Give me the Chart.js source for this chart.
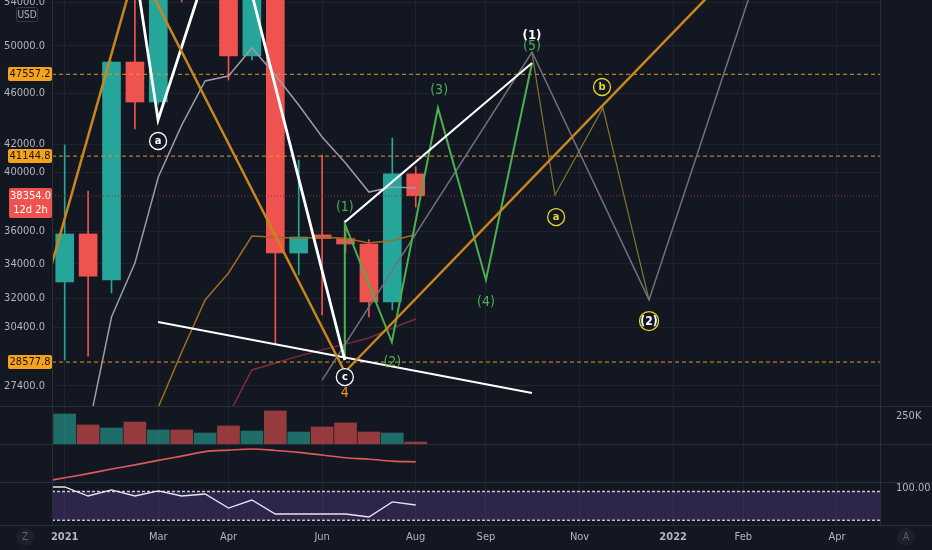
<!DOCTYPE html>
<html>
<head>
<meta charset="utf-8">
<script src="https://cdn.jsdelivr.net/npm/chart.js@4.4.1/dist/chart.umd.min.js"></script>
<style>
  html, body { margin: 0; padding: 0; background: #131722; }
  #wrap { width: 932px; height: 550px; }
</style>
</head>
<body>
<div id="wrap"><canvas id="chart" width="932" height="550"></canvas></div>
<script>
// BTC/USD, 2 week bars
const barDates = ['2021-01-04', '2021-01-18', '2021-02-01', '2021-02-15', '2021-03-01', '2021-03-15', '2021-03-29', '2021-04-12',
                  '2021-04-26', '2021-05-10', '2021-05-24', '2021-06-07', '2021-06-21', '2021-07-05', '2021-07-19', '2021-08-02'];
const opens  = [32930, 35850, 33050, 48600, 45280, 57500, 55800, 60500, 49120, 58000, 34660, 35790, 35560, 35220, 31790, 39870];
const highs  = [41960, 38680, 48650, 57000, 61500, 61000, 61500, 64800, 59500, 59600, 40860, 41230, 36400, 35500, 42490, 40370];
const lows   = [28680, 28880, 32300, 43170, 45100, 54050, 55000, 47080, 48780, 29550, 33340, 31060, 34700, 30950, 31340, 37600];
const closes = [35850, 33270, 48600, 45280, 57500, 55800, 60500, 49120, 58000, 34660, 35660, 35560, 35220, 31790, 39870, 38354];
const volumesK = [268, 170, 143, 196, 125, 125, 98, 161, 116, 295, 107, 152, 188, 107, 98, 18];

// lower panes (the bar before the window comes first)
const maPane  = [0, 11, 22, 34, 45, 57, 68, 80, 84, 87, 83, 78, 71, 64, 60, 55, 53];
const rsiPane = [89.5, 89.5, 70.7, 83.3, 70.7, 81.2, 70.7, 74.9, 45.6, 62.3, 33, 33, 33, 33, 26.8, 58.2, 51.9];
const rsiBand = [80, 20];

// moving averages on price
const maGrayIdx = [1, 2, 3, 4, 5, 6, 7, 8, 9, 10, 11, 12, 13, 14, 15];
const maGray    = [25340, 30950, 34050, 39650, 43470, 47000, 47410, 49820, 47500, 45040, 42560, 40650, 38610, 38950, 38880];
const maBrownIdx = [4, 5, 6, 7, 8, 9, 10, 11, 12, 13, 14, 15];
const maBrown    = [26390, 29090, 31900, 33460, 35720, 35650, 35580, 35650, 35580, 35280, 35440, 35820];
const maMaroonIdx = [7, 8, 9, 10, 11, 12, 13, 14, 15];
const maMaroon    = [26020, 28180, 28530, 28880, 29200, 29500, 29820, 30350, 30840];

// drawings (bar index, price)
const orangeIdx = [-0.54, 3.09, 11.97, 29];
const orangePx  = [34050, 57810, 28080, 58220];
const abcIdx = [2.97, 3.99, 7.0, 11.97];
const abcPx  = [58000, 43860, 64510, 28680];
const upperTrendIdx = [11.97, 19.97];
const upperTrendPx  = [36610, 48520];
const lowerTrendIdx = [3.99, 19.97];
const lowerTrendPx  = [30680, 27060];
const impulseIdx = [11.97, 11.97, 13.98, 15.95, 18.0, 19.97];
const impulsePx  = [28830, 36490, 29610, 44810, 33050, 48520];
const bigWaveIdx = [11.0, 19.97, 24.97, 31.0];
const bigWavePx  = [27680, 49470, 31900, 67910];
const correctionIdx = [19.97, 20.95, 23.0, 24.97];
const correctionPx  = [49380, 38410, 44810, 31900];

// wave labels
const waveText   = ['a', 'c', '4', '(1)', '(2)', '(3)', '(4)', '(5)', '(1)', 'a', 'b', '(2)'];
const waveIdx    = [3.99, 11.97, 11.97, 11.97, 14.0, 16.0, 18.0, 19.97, 19.97, 21.0, 22.96, 24.97];
const wavePrice  = [42260, 27830, 27060, 37600, 28580, 46250, 31790, 50000, 50980, 36940, 46500, 30730];
const waveDegree = ['minorW', 'minorW', 'primary', 'minute', 'minute', 'minute', 'minute', 'minute', 'intermediate', 'minorY', 'minorY', 'intermediateY'];

// price levels
const levelPrices = [47557.2, 41144.8, 28577.8];
const lastPrice = 38354.0;
const barCountdown = '12d 2h';

// axes
const priceTicks = [54000, 50000, 46000, 42000, 40000, 36000, 34000, 32000, 30400, 27400];
const xTickIdx = [0, 4, 7, 11, 15, 18, 22, 26, 29, 33];
const xTickLabels = ['2021', 'Mar', 'Apr', 'Jun', 'Aug', 'Sep', 'Nov', '2022', 'Feb', 'Apr'];

const BG = '#131722';
const GRID = 'rgba(42,46,57,0.55)';
const TXT = '#b2b5be';
const FONT = "'Liberation Sans Narrow', 'DejaVu Sans Condensed', 'Roboto', sans-serif";
const X_MIN = -0.543, X_MAX = 34.84;

const idx = barDates.map((d, i) => i);
const paneIdx = [-1].concat(idx);
const up = idx.map(i => closes[i] >= opens[i]);
const bodyColor = up.map(u => u ? '#26a69a' : '#ef5350');
const volColor = up.map(u => u ? 'rgba(38,166,154,0.6)' : 'rgba(239,83,80,0.6)');

function path(xs, ys) { return xs.map((x, i) => ({x: x, y: ys[i]})); }
function line(data, color, width, extra) {
    return Object.assign({type: 'line', data: data, borderColor: color, borderWidth: width,
        pointRadius: 0, fill: false, tension: 0, yAxisID: 'y', order: 5}, extra || {});
}

const datasets = [
    // candles
    {type: 'bar', data: idx.map(i => ({x: i, y: [lows[i], highs[i]]})), backgroundColor: bodyColor,
     barThickness: 1, grouped: false, yAxisID: 'y', order: 20},
    {type: 'bar', data: idx.map(i => ({x: i, y: [opens[i], closes[i]]})), backgroundColor: bodyColor,
     barThickness: 18, grouped: false, yAxisID: 'y', order: 19},
    // moving averages
    line(path(maGrayIdx, maGray), '#9a9ca6', 1.5, {order: 15}),
    line(path(maBrownIdx, maBrown), '#a06c1e', 1.5, {order: 15}),
    line(path(maMaroonIdx, maMaroon), '#7c2b3d', 1.5, {order: 15}),
    // levels
    ...levelPrices.map(p => line(path([X_MIN, X_MAX], [p, p]), '#e0962a', 1, {borderDash: [4, 3], order: 12})),
    line(path([X_MIN, X_MAX], [lastPrice, lastPrice]), '#8e3148', 1, {borderDash: [1, 2], order: 12}),
    // drawings
    line(path(bigWaveIdx, bigWavePx), '#6f727c', 1.5, {order: 6}),
    line(path(correctionIdx, correctionPx), '#7f7a2c', 1.2, {order: 6}),
    line(path(impulseIdx, impulsePx), '#4caf50', 2, {order: 4}),
    line(path(orangeIdx, orangePx), '#c8861e', 2.5, {order: 3}),
    line(path(abcIdx, abcPx), '#ffffff', 2.8, {order: 3}),
    line(path(upperTrendIdx, upperTrendPx), '#ffffff', 2, {order: 3}),
    line(path(lowerTrendIdx, lowerTrendPx), '#ffffff', 2, {order: 3}),
    // volume
    {type: 'bar', data: idx.map(i => ({x: i, y: volumesK[i] * 1000})), backgroundColor: volColor,
     barThickness: 22, grouped: false, yAxisID: 'yVol', order: 1},
    // ma pane
    line(path(paneIdx, maPane), '#e0585a', 1.6, {yAxisID: 'yMa', tension: 0.4, cubicInterpolationMode: 'monotone', order: 1}),
    // rsi pane
    line(path([X_MIN, X_MAX], [rsiBand[0], rsiBand[0]]), '#c8cad2', 1.5,
        {yAxisID: 'yRsi', borderDash: [3, 2], fill: '+1', backgroundColor: 'rgba(126,80,200,0.25)', order: 2}),
    line(path([X_MIN, X_MAX], [rsiBand[1], rsiBand[1]]), '#c8cad2', 1.5, {yAxisID: 'yRsi', borderDash: [3, 2], order: 2}),
    line(path(paneIdx, rsiPane), '#e6e6ee', 1.3, {yAxisID: 'yRsi', order: 1})
];

const degreeStyle = {
    minorW:        {ring: '#ffffff', r: 8.5, color: '#ffffff', font: 'bold 11px ' + FONT},
    minorY:        {ring: '#e8d42c', r: 8.5, color: '#e8d42c', font: 'bold 11px ' + FONT},
    intermediateY: {ring: '#e8d42c', r: 9.5, color: '#ffffff', font: 'bold 12px ' + FONT},
    primary:       {color: '#f0961c', font: '14px ' + FONT},
    minute:        {color: '#4caf50', font: '14px ' + FONT},
    intermediate:  {color: '#ffffff', font: 'bold 13px ' + FONT}
};

function tag(ctx, x, y, w, h, fill) {
    ctx.beginPath();
    ctx.roundRect(x, y, w, h, 2);
    ctx.fillStyle = fill;
    ctx.fill();
}

// no label overflow padding: panes must fill the canvas edge to edge
function noPad(s) {
    s.paddingTop = 0; s.paddingBottom = 0; s.paddingLeft = 0; s.paddingRight = 0;
}

const overlay = {
    id: 'overlay',
    beforeDraw(chart) {
        const ctx = chart.ctx;
        ctx.save();
        ctx.fillStyle = BG;
        ctx.fillRect(0, 0, chart.width, chart.height);
        ctx.restore();
    },
    beforeDatasetDraw(chart, args) {
        // keep every pane inside its own band
        const ys = args.meta.yScale, a = chart.chartArea, ctx = chart.ctx;
        ctx.save();
        ctx.beginPath();
        ctx.rect(a.left, ys.top, a.right - a.left, ys.bottom - ys.top);
        ctx.clip();
    },
    afterDatasetDraw(chart) {
        chart.ctx.restore();
    },
    afterDraw(chart) {
        const ctx = chart.ctx, a = chart.chartArea, s = chart.scales;
        const X = v => s.x.getPixelForValue(v), Y = v => s.y.getPixelForValue(v);
        ctx.save();

        // wave labels
        ctx.save();
        ctx.beginPath();
        ctx.rect(a.left, s.y.top, a.right - a.left, s.y.bottom - s.y.top);
        ctx.clip();
        ctx.textAlign = 'center';
        ctx.textBaseline = 'middle';
        waveText.forEach((t, i) => {
            const st = degreeStyle[waveDegree[i]];
            const px = X(waveIdx[i]), py = Y(wavePrice[i]);
            if (st.ring) {
                ctx.beginPath();
                ctx.arc(px, py, st.r, 0, Math.PI * 2);
                ctx.fillStyle = BG;
                ctx.fill();
                ctx.lineWidth = 1.3;
                ctx.strokeStyle = st.ring;
                ctx.stroke();
            }
            ctx.font = st.font;
            ctx.fillStyle = st.color;
            ctx.fillText(t, px, py + 0.5);
        });
        ctx.restore();

        // pane separators and borders
        ctx.strokeStyle = '#2a2e39';
        ctx.lineWidth = 1;
        [s.y.bottom, s.yVol.bottom, s.yMa.bottom, s.yRsi.bottom].forEach(yy => {
            ctx.beginPath();
            ctx.moveTo(0, Math.round(yy) + 0.5);
            ctx.lineTo(chart.width, Math.round(yy) + 0.5);
            ctx.stroke();
        });
        [a.left, a.right].forEach(xx => {
            ctx.beginPath();
            ctx.moveTo(Math.round(xx) + 0.5, 0);
            ctx.lineTo(Math.round(xx) + 0.5, a.bottom);
            ctx.stroke();
        });

        // USD badge
        ctx.beginPath();
        ctx.roundRect(16.5, 7.5, 21, 14, 2);
        ctx.fillStyle = BG;
        ctx.fill();
        ctx.strokeStyle = '#363a45';
        ctx.stroke();
        ctx.fillStyle = TXT;
        ctx.font = '10px ' + FONT;
        ctx.textAlign = 'center';
        ctx.textBaseline = 'middle';
        ctx.fillText('USD', 27, 15);

        // price tags
        ctx.font = '11px ' + FONT;
        levelPrices.forEach(p => {
            const py = Math.round(Y(p));
            tag(ctx, 8, py - 7, 44, 14, '#f7a21b');
            ctx.fillStyle = '#131722';
            ctx.fillText(p.toFixed(1), 30, py + 0.5);
        });
        const lp = Math.round(Y(lastPrice));
        tag(ctx, 9, lp - 8, 43, 30, '#ef5350');
        ctx.fillStyle = '#ffffff';
        ctx.fillText(lastPrice.toFixed(1), 30.5, lp + 0.5);
        ctx.fillText(barCountdown, 30.5, lp + 14);

        // scale buttons
        [[25, 'Z'], [906, 'A']].forEach(([bx, t]) => {
            ctx.beginPath();
            ctx.arc(bx, 537, 9, 0, Math.PI * 2);
            ctx.fillStyle = '#1c202b';
            ctx.fill();
            ctx.fillStyle = '#5d606b';
            ctx.font = '10px ' + FONT;
            ctx.fillText(t, bx, 537.5);
        });
        ctx.restore();
    }
};

const hidden = {display: false};
function pane(position, weight, order, extra) {
    return Object.assign({
        type: 'linear', position: position, stack: position + 'Panes', stackWeight: weight, weight: order,
        bounds: 'data', ticks: {display: false}, grid: hidden, border: hidden,
        afterFit: s => { s.width = 52; noPad(s); }
    }, extra || {});
}

new Chart(document.getElementById('chart'), {
    type: 'line',
    data: {datasets: datasets},
    options: {
        responsive: false,
        animation: false,
        devicePixelRatio: 1,
        events: [],
        layout: {padding: 0},
        plugins: {legend: {display: false}, tooltip: {enabled: false}},
        scales: {
            x: {
                type: 'linear', position: 'bottom', min: X_MIN, max: X_MAX, bounds: 'data', offset: false,
                afterBuildTicks: s => { s.ticks = xTickIdx.map(v => ({value: v})); },
                afterFit: s => { s.height = 25; noPad(s); },
                ticks: {
                    callback: (v, i) => xTickLabels[i],
                    color: TXT, padding: 6, autoSkip: false, maxRotation: 0,
                    font: c => ({family: FONT, size: 11, weight: (c.index === 0 || c.index === 7) ? 'bold' : 'normal'})
                },
                grid: {color: GRID, drawTicks: false, offset: false},
                border: hidden
            },
            y: {
                type: 'logarithmic', position: 'left', stack: 'leftPanes', stackWeight: 406, weight: 4,
                min: 26440, max: 54240,
                afterBuildTicks: s => { s.ticks = priceTicks.map(v => ({value: v})); },
                afterFit: s => { s.width = 52; noPad(s); },
                ticks: {callback: v => Number(v).toFixed(1), color: TXT, padding: 7, autoSkip: false,
                        font: {family: FONT, size: 11}},
                grid: {color: GRID, drawTicks: false},
                border: hidden
            },
            yVolL: pane('left', 38, 3),
            yMaL: pane('left', 38, 2),
            yRsiL: pane('left', 43, 1),
            yMainR: pane('right', 406, 1),
            yVol: pane('right', 38, 2, {
                min: 0, max: 339000,
                afterBuildTicks: s => { s.ticks = [{value: 250000}]; },
                ticks: {display: true, callback: () => '250K', color: TXT, padding: 8, font: {family: FONT, size: 11}}
            }),
            yMa: pane('right', 38, 3, {min: 0, max: 100}),
            yRsi: pane('right', 43, 4, {
                min: 10, max: 100,
                afterBuildTicks: s => { s.ticks = [{value: 100}]; },
                ticks: {display: true, callback: () => '100.00', color: TXT, padding: 8, labelOffset: 6,
                        font: {family: FONT, size: 11}}
            })
        }
    },
    plugins: [overlay]
});
</script>
</body>
</html>
